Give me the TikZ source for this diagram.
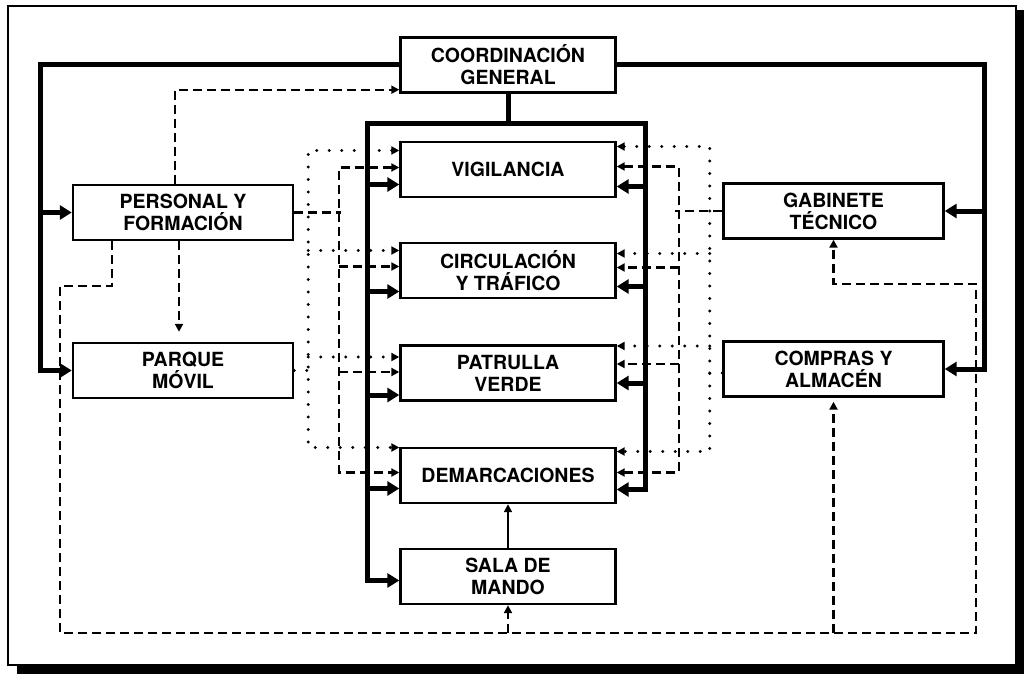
\documentclass[tikz,border=0pt]{standalone}
\usepackage{fontspec}
\setmainfont{TeX Gyre Heros}
\usetikzlibrary{arrows.meta,calc}

\begin{document}
\begin{tikzpicture}[
  x=1pt, y=-1pt,
  line join=miter,
  bigHead/.tip={Triangle[length=12pt,width=14pt]},
  smallHead/.tip={Triangle[length=8pt,width=8pt]},
  unitBox/.style={draw, line width=2.4pt, minimum width=215pt, minimum height=55pt,
    inner sep=0pt, align=center, font=\bfseries\fontsize{19.5}{22}\selectfont},
  sideBox/.style={unitBox, minimum width=220pt},
  mainLine/.style={line width=5pt},
  dashLine/.style={line width=2.3pt, dash pattern=on 9pt off 5pt},
  dotLine/.style={line width=3.3pt, line cap=round, dash pattern=on 0pt off 12.5pt}
]
  % Frame and shadow
  \useasboundingbox (0,0) rectangle (1024,674);
  \fill (1016,10) rectangle (1024,674);
  \fill (17,665) rectangle (1024,674);
  \draw[line width=2pt] (8,6) rectangle (1016,665);

  % Units
  \node[unitBox] (coord) at (508,65) {COORDINACIÓN\\GENERAL};
  \node[unitBox] (vig) at (508,169.5) {VIGILANCIA};
  \node[unitBox] (circ) at (508,270.5) {CIRCULACIÓN\\Y TRÁFICO};
  \node[unitBox] (patr) at (508,373) {PATRULLA\\VERDE};
  \node[unitBox] (demar) at (508,475.5) {DEMARCACIONES};
  \node[unitBox] (sala) at (508,576.5) {SALA DE\\MANDO};
  \node[sideBox] (pers) at (183,212.5) {PERSONAL Y\\FORMACIÓN};
  \node[sideBox] (parque) at (183,370.5) {PARQUE\\MÓVIL};
  \node[sideBox] (gab) at (833.5,211) {GABINETE\\TÉCNICO};
  \node[sideBox] (compras) at (833.5,369) {COMPRAS Y\\ALMACÉN};

  % Thick lines from the coordination to the side units
  \draw[mainLine,-bigHead] (coord.west) -| ($(parque.west)+(-31,0)$) -- (parque.west);
  \draw[mainLine,-bigHead] ($(pers.west)+(-31,0)$) -- (pers.west);
  \draw[mainLine,-bigHead] (coord.east) -| ($(compras.east)+(40,0)$) -- (compras.east);
  \draw[mainLine,-bigHead] ($(gab.east)+(40,0)$) -- (gab.east);

  % Thick frame round the central units
  \coordinate (LT) at (367,123);
  \coordinate (RT) at (645,123);
  \draw[mainLine] (coord.south) -- (coord.south |- LT);
  \draw[mainLine,bigHead-bigHead] ($(sala.west)+(0,4)$) -| (LT) -- (RT) |- ($(demar.east)+(0,14)$);
  \draw[mainLine,-bigHead] ($(vig.west)+(-33,15)$) -- ++(33,0);
  \draw[mainLine,-bigHead] ($(circ.west)+(-33,21)$) -- ++(33,0);
  \draw[mainLine,-bigHead] ($(patr.west)+(-33,22)$) -- ++(33,0);
  \draw[mainLine,-bigHead] ($(demar.west)+(-33,13)$) -- ++(33,0);
  \draw[mainLine,-bigHead] ($(vig.east)+(30,17)$) -- ++(-30,0);
  \draw[mainLine,-bigHead] ($(circ.east)+(30,16)$) -- ++(-30,0);
  \draw[mainLine,-bigHead] ($(patr.east)+(30,10)$) -- ++(-30,0);

  % Left buses (dotted from PARQUE MOVIL, dashed from PERSONAL)
  \draw[dotLine,smallHead-smallHead] ($(vig.west)+(0,-19)$) -| ($(demar.west)+(-91,-28)$) -- ($(demar.west)+(0,-28)$);
  \draw[dotLine,-smallHead] ($(circ.west)+(-91,-20)$) -- ++(91,0);
  \draw[dotLine,-smallHead] ($(patr.west)+(-91,-16)$) -- ++(91,0);
  \draw[dashLine,smallHead-smallHead] ($(vig.west)+(0,-2)$) -| ($(demar.west)+(-60,-3)$) -- ($(demar.west)+(0,-3)$);
  \draw[dashLine,-smallHead] ($(circ.west)+(-60,-4)$) -- ++(60,0);
  \draw[dashLine,-smallHead] ($(patr.west)+(-60,-1)$) -- ++(60,0);
  \draw[dashLine] (pers.east) -- ++(47,0);
  \draw[dotLine] (parque.east) -- ++(16,0);

  % Right buses (dotted from COMPRAS, dashed from GABINETE)
  \draw[dotLine,smallHead-smallHead] ($(vig.east)+(0,-23)$) -| ($(demar.east)+(93,-24)$) -- ($(demar.east)+(0,-24)$);
  \draw[dotLine,-smallHead] ($(circ.east)+(93,-17)$) -- ++(-93,0);
  \draw[dotLine,-smallHead] ($(patr.east)+(93,-27)$) -- ++(-93,0);
  \draw[dashLine,smallHead-smallHead] ($(vig.east)+(0,-3)$) -| ($(demar.east)+(62,-3)$) -- ($(demar.east)+(0,-3)$);
  \draw[dashLine,-smallHead] ($(circ.east)+(62,-3)$) -- ++(-62,0);
  \draw[dashLine,-smallHead] ($(patr.east)+(62,-9)$) -- ++(-62,0);
  \draw[dashLine] (gab.west) -- ++(-47,0);
  \draw[dotLine] ($(compras.west)+(0,4)$) -- ++(-16,0);

  % Dashed links from PERSONAL Y FORMACION
  \coordinate (BL) at (60,633);
  \coordinate (BR) at (976,633);
  \draw[dashLine,-smallHead] ($(pers.north)+(-8,0)$) |- ($(coord.south west)+(0,-4)$);
  \draw[dashLine,-smallHead,shorten >=10pt] ($(pers.south)+(-4,0)$) -- ($(parque.north)+(-4,0)$);
  \draw[dashLine,-smallHead] ($(pers.south)+(-71,0)$) -- ++(0,45) -| (BL) -- (BR) |- ($(gab.south)+(0,44)$) -- (gab.south);
  \draw[dashLine,-smallHead] (sala.south |- BL) -- (sala.south);
  \draw[dashLine,-smallHead,shorten >=4pt] (compras.south |- BL) -- (compras.south);

  % Sala de mando to demarcaciones
  \draw[line width=2.3pt,-smallHead] (sala.north) -- (demar.south);
\end{tikzpicture}
\end{document}
